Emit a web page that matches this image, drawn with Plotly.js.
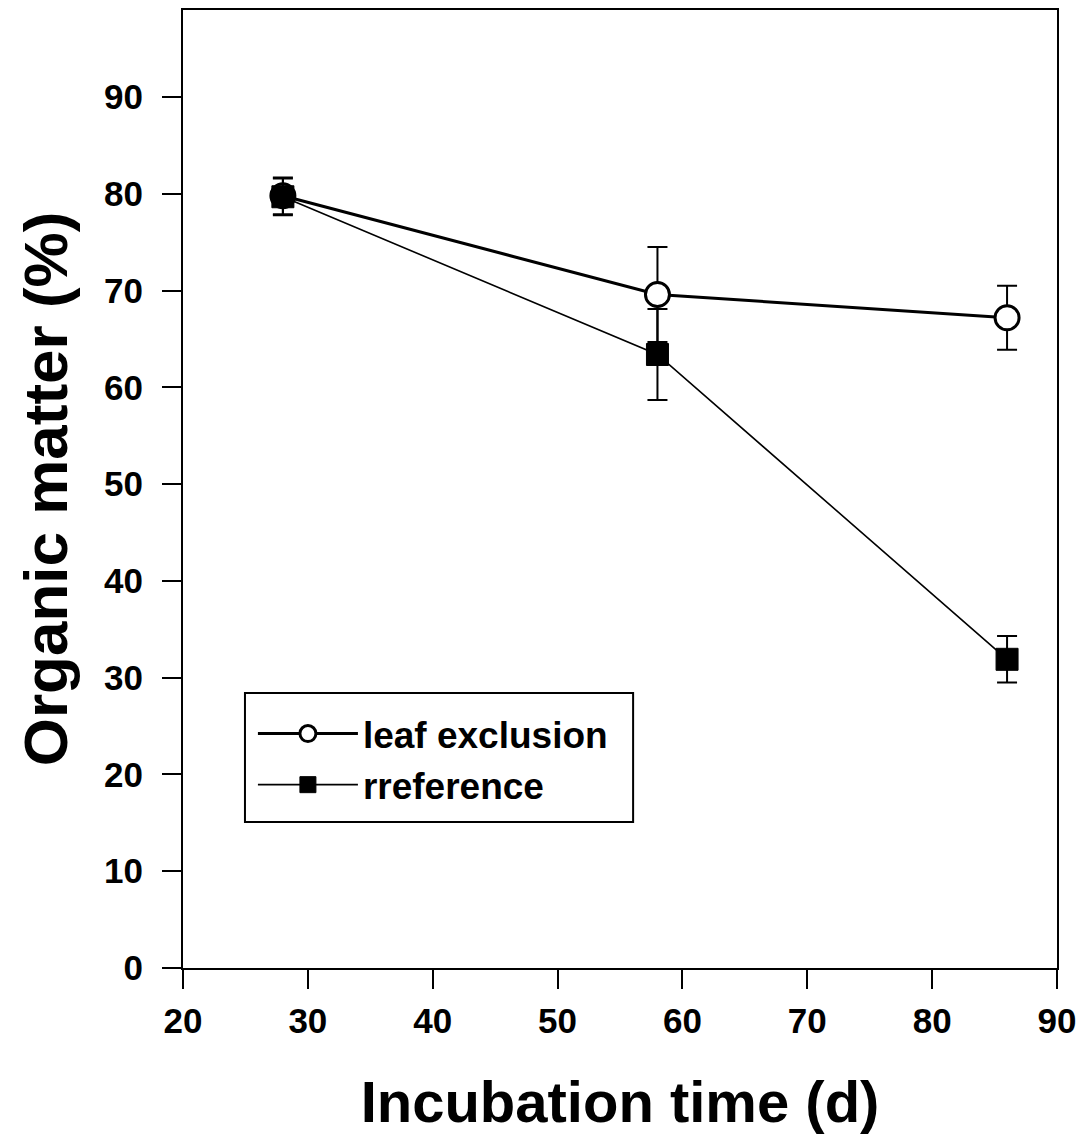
<!DOCTYPE html>
<html>
<head>
<meta charset="utf-8">
<script src="https://cdn.plot.ly/plotly-3.0.1.min.js"></script>
<style>html,body{margin:0;padding:0;background:#fff;}#chart{width:1087px;height:1144px;}</style>
</head>
<body>
<div id="chart"></div>
<script>
const days = [28, 58, 86];
const leafExclusion = [79.8, 69.6, 67.2];
const leafExclusionErr = [1.9, 4.9, 3.3];
const reference = [79.7, 63.4, 31.9];
const referenceErr = [1.9, 4.7, 2.4];
const seriesNames = ['leaf exclusion', 'rreference'];
const xTicks = [20, 30, 40, 50, 60, 70, 80, 90];
const yTicks = [0, 10, 20, 30, 40, 50, 60, 70, 80, 90];

const FONT = 'Liberation Sans, Arial, Helvetica, sans-serif';

const traces = [
  {
    x: days, y: leafExclusion, name: seriesNames[0], type: 'scatter', mode: 'lines+markers',
    line: {color: '#000', width: 3},
    marker: {symbol: 'circle', size: 24, color: '#fff', line: {color: '#000', width: 3}},
    error_y: {type: 'data', array: leafExclusionErr, visible: true, color: '#000', thickness: 2, width: 10}
  },
  {
    x: days, y: reference, name: seriesNames[1], type: 'scatter', mode: 'lines+markers',
    line: {color: '#000', width: 1.6},
    marker: {symbol: 'square', size: 22, color: '#000', line: {color: '#000', width: 1}},
    error_y: {type: 'data', array: referenceErr, visible: true, color: '#000', thickness: 2, width: 10}
  }
];

const layout = {
  width: 1087, height: 1144,
  margin: {l: 183, r: 30, t: 10, b: 176},
  paper_bgcolor: '#fff', plot_bgcolor: '#fff',
  font: {family: FONT, color: '#000', weight: 700},
  showlegend: true,
  legend: {
    x: 0.08, y: 0.2766, xanchor: 'left', yanchor: 'top',
    bgcolor: 'rgba(0,0,0,0)', borderwidth: 0,
    font: {family: FONT, size: 37, color: '#000', weight: 700},
    itemwidth: 100
  },
  shapes: [{
    type: 'rect', xref: 'paper', yref: 'paper',
    x0: 0.0709, x1: 0.515, y0: 0.1524, y1: 0.287,
    line: {color: '#000', width: 2}, fillcolor: 'rgba(0,0,0,0)', layer: 'below'
  }],
  xaxis: {
    range: [20, 90], tickvals: xTicks, ticktext: xTicks.map(String),
    showgrid: false, zeroline: false,
    showline: true, linecolor: '#000', linewidth: 2, mirror: true,
    ticks: 'outside', ticklen: 19, tickwidth: 2, tickcolor: '#000',
    tickfont: {family: FONT, size: 35, color: '#000', weight: 700},
    ticklabelstandoff: 2,
    title: {text: 'Incubation time (d)', font: {family: FONT, size: 58, color: '#000', weight: 700}, standoff: 42}
  },
  yaxis: {
    range: [0, 99], tickvals: yTicks, ticktext: yTicks.map(String),
    showgrid: false, zeroline: false,
    showline: true, linecolor: '#000', linewidth: 2, mirror: true,
    ticks: 'outside', ticklen: 19, tickwidth: 2, tickcolor: '#000',
    tickfont: {family: FONT, size: 35, color: '#000', weight: 700},
    ticklabelstandoff: 12,
    title: {text: 'Organic matter (%)', font: {family: FONT, size: 62, color: '#000', weight: 700}, standoff: 16}
  }
};

Plotly.newPlot('chart', traces, layout, {displayModeBar: false, staticPlot: true});
</script>
</body>
</html>
